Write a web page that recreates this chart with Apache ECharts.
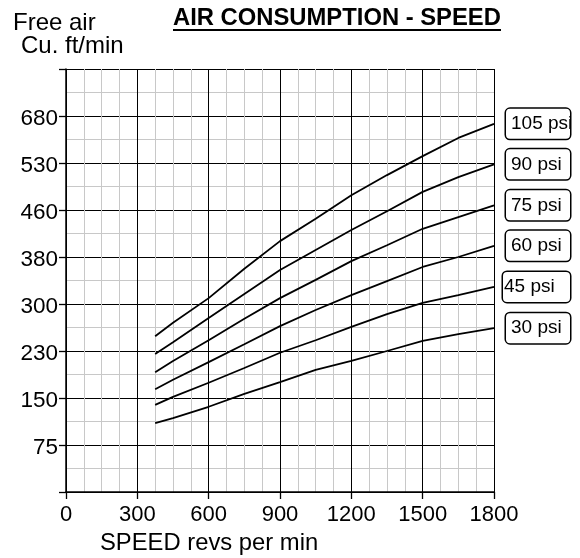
<!DOCTYPE html>
<html><head><meta charset="utf-8">
<script src="https://cdn.jsdelivr.net/npm/echarts@6/dist/echarts.min.js"></script>
<style>html,body{margin:0;padding:0;background:#fff}#c{width:580px;height:558px}</style>
</head><body><div id="c"></div>
<script>
// Speed (revs per min) at which each curve was read
const speed = [375, 450, 600, 750, 900, 1050, 1200, 1350, 1500, 1650, 1800];
// Free air consumption, cu. ft/min
const psi105 = [252, 272, 310, 360, 407, 445, 482, 512, 552, 610, 655];
const psi90  = [225, 243, 279, 317, 358, 392, 426, 458, 487, 509, 528];
const psi75  = [194, 213, 246, 278, 310, 341, 373, 400, 428, 448, 467];
const psi60  = [165, 181, 211, 240, 267, 291, 315, 339, 363, 380, 399];
const psi45  = [139, 152, 176, 201, 227, 246, 266, 285, 302, 315, 329];
const psi30  = [110, 118, 136, 157, 177, 198, 213, 230, 245, 255, 264];
const seriesNames = ['30 psi', '45 psi', '60 psi', '75 psi', '90 psi', '105 psi'];
const seriesValues = [psi30, psi45, psi60, psi75, psi90, psi105];
// The chart's y scale is evenly spaced ticks carrying these values
const yTickValues = [0, 75, 150, 230, 300, 380, 460, 530, 680, 830];
const yTickLabels = ['', '75', '150', '230', '300', '380', '460', '530', '680', ''];
const xMin = 0, xMax = 1800, xStep = 300;

function toAxis(v) {
  for (let k = 0; k < yTickValues.length - 1; k++) {
    const a = yTickValues[k], b = yTickValues[k + 1];
    if (v <= b) return k + (v - a) / (b - a);
  }
  return yTickValues.length - 1;
}

const FONT = "'Liberation Sans', Arial, sans-serif";
const chart = echarts.init(document.getElementById('c'), null, {renderer: 'canvas'});

const series = seriesNames.map((name, si) => {
  const narrow = name === '45 psi';
  return {
    name: name,
    type: 'line',
    data: speed.map((s, i) => [s, toAxis(seriesValues[si][i])]),
    symbol: 'none',
    smooth: false,
    silent: true,
    lineStyle: {color: '#000', width: 1.8},
    emphasis: {disabled: true},
    endLabel: {
      show: true,
      formatter: p => p.seriesName,
      distance: narrow ? 9 : 12,
      fontFamily: FONT,
      fontSize: 19,
      color: '#000',
      width: narrow ? 62 : 55,
      padding: narrow ? [6, 4, 5, 1] : [6, 4, 5, 5],
      borderColor: '#000',
      borderWidth: 1.5,
      borderRadius: 4,
      backgroundColor: '#fff'
    }
  };
});

chart.setOption({
  animation: false,
  backgroundColor: '#fff',
  grid: {left: 66, right: 86, top: 69, bottom: 66, containLabel: false},
  xAxis: {
    type: 'value', min: xMin, max: xMax, interval: xStep,
    axisLine: {show: true, lineStyle: {color: '#000', width: 1.5}},
    axisTick: {show: true, length: 7, lineStyle: {color: '#000', width: 1.3}},
    axisLabel: {color: '#000', fontSize: 22, fontFamily: FONT, margin: 12,
      formatter: v => String(v)},
    splitLine: {show: true, lineStyle: {color: '#000', width: 1}},
    minorTick: {show: false, splitNumber: 4},
    minorSplitLine: {show: true, lineStyle: {color: '#c8c8c8', width: 1}}
  },
  yAxis: {
    type: 'value', min: 0, max: yTickLabels.length - 1, interval: 1,
    axisLine: {show: true, lineStyle: {color: '#000', width: 1.5}},
    axisTick: {show: true, length: 7, lineStyle: {color: '#000', width: 1.3}},
    axisLabel: {color: '#000', fontSize: 22, fontFamily: FONT, margin: 8,
      formatter: v => {
        const t = yTickLabels[Math.round(v)] || '';
        return t ? '{v|' + t + '}' : '';
      },
      rich: {v: {fontSize: 22.5, fontFamily: FONT, color: '#000', padding: [6, 0, 0, 0]}}},
    splitLine: {show: true, lineStyle: {color: '#000', width: 1}},
    minorTick: {show: false, splitNumber: 2},
    minorSplitLine: {show: true, lineStyle: {color: '#c8c8c8', width: 1}}
  },
  graphic: [
    {type: 'text', x: 13, y: 23, style: {text: 'Free air', font: '24px ' + FONT, fill: '#000', verticalAlign: 'middle'}},
    {type: 'text', x: 21, y: 46, style: {text: 'Cu. ft/min', font: '24px ' + FONT, fill: '#000', verticalAlign: 'middle'}},
    {type: 'text', x: 173, y: 18, style: {text: 'AIR CONSUMPTION - SPEED', font: 'bold 23.8px ' + FONT, fill: '#000', verticalAlign: 'middle'}},
    {type: 'rect', shape: {x: 173, y: 29, width: 328, height: 2}, style: {fill: '#000'}},
    {type: 'text', x: 100, y: 543, style: {text: 'SPEED revs per min', font: '23.8px ' + FONT, fill: '#000', verticalAlign: 'middle'}}
  ],
  series: series
});
</script>
</body></html>
